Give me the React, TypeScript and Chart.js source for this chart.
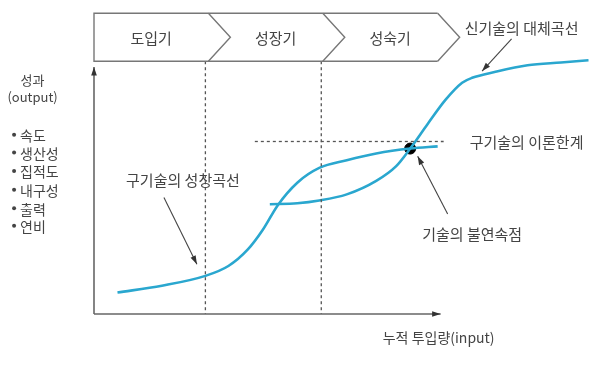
import React, { useEffect, useRef } from "react";
import { Chart, registerables } from "chart.js";
Chart.register(...registerables);

// ---- data (abstract units: x = cumulative input 0..100, y = output 0..100) ----
const phaseLabels = ["도입기", "성장기", "성숙기"];
const phaseBounds = [0, 22.9, 45.8, 68.8];
const phaseDividers = [22.3, 45.5];

const oldTechX = [4.7, 13.6, 22.3, 26.9, 30.8, 33.8, 36.8, 40.7, 45.1, 50.6, 56.5, 63.3, 68.8];
const oldTechY = [7.0, 9.2, 12.4, 15.6, 21.0, 27.4, 35.4, 42.7, 47.5, 50.0, 52.2, 53.8, 54.5];

const newTechX = [35.2, 40.7, 45.1, 50.6, 56.5, 60.5, 63.3, 66.8, 70.4, 73.7, 75.7, 80.2, 86.8, 93.5, 99.0];
const newTechY = [35.7, 36.0, 36.9, 38.9, 43.3, 48.1, 53.8, 61.8, 69.7, 75.2, 76.8, 78.7, 80.9, 81.8, 82.5];

const limitY = 56.1;
const limitRange = [32.2, 70.0];
const discontinuity = { x: 63.3, y: 53.8 };

const axisXEnd = 69.4;
const axisYEnd = 80.3;
const boxTop = 97.8;
const boxBottom = 82.2;

const calloutTexts = ["신기술의 대체곡선", "구기술의 성창곡선", "구기술의 이론한계", "기술의 불연속점"];
const xAxisTitle = "누적 투입량(input)";
const yAxisTitle = ["성과", "(output)"];
const outputMetrics = ["속도", "생산성", "집적도", "내구성", "출력", "연비"];

const CURVE = "#2aa7cf";
const INK = "#444444";
const GRAY = "#666666";
const FONT = "'Noto Sans CJK KR', 'Noto Sans', sans-serif";

function drawArrow(ctx: CanvasRenderingContext2D, x1: number, y1: number, x2: number, y2: number, head = 8) {
  ctx.beginPath();
  ctx.moveTo(x1, y1);
  ctx.lineTo(x2, y2);
  ctx.stroke();
  const a = Math.atan2(y2 - y1, x2 - x1);
  ctx.beginPath();
  ctx.moveTo(x2, y2);
  ctx.lineTo(x2 - head * Math.cos(a - 0.32), y2 - head * Math.sin(a - 0.32));
  ctx.lineTo(x2 - head * Math.cos(a + 0.32), y2 - head * Math.sin(a + 0.32));
  ctx.closePath();
  ctx.fill();
}

const diagramPlugin = {
  id: "diagram",
  afterDraw(chart: any) {
    const ctx: CanvasRenderingContext2D = chart.ctx;
    const xs = chart.scales.x;
    const ys = chart.scales.y;
    const px = (v: number) => xs.getPixelForValue(v);
    const py = (v: number) => ys.getPixelForValue(v);
    ctx.save();

    // axes with arrowheads
    ctx.strokeStyle = GRAY;
    ctx.fillStyle = "#333";
    ctx.lineWidth = 1.6;
    drawArrow(ctx, px(0), py(0), px(axisXEnd), py(0), 9);
    drawArrow(ctx, px(0), py(0), px(0), py(axisYEnd), 9);

    // phase chevron box
    const t = py(boxTop);
    const b = py(boxBottom);
    const m = (t + b) / 2;
    const depth = 22;
    ctx.strokeStyle = "#777";
    ctx.lineWidth = 1.4;
    ctx.beginPath();
    ctx.moveTo(px(phaseBounds[phaseBounds.length - 1]), t);
    ctx.lineTo(px(phaseBounds[0]), t);
    ctx.lineTo(px(phaseBounds[0]), b);
    ctx.lineTo(px(phaseBounds[phaseBounds.length - 1]), b);
    ctx.stroke();
    for (let i = 1; i < phaseBounds.length; i++) {
      const x0 = px(phaseBounds[i]);
      ctx.beginPath();
      ctx.moveTo(x0, t);
      ctx.lineTo(x0 + depth, m);
      ctx.lineTo(x0, b);
      ctx.stroke();
    }
    ctx.fillStyle = INK;
    ctx.font = `15px ${FONT}`;
    ctx.textAlign = "center";
    ctx.textBaseline = "middle";
    for (let i = 0; i < phaseLabels.length; i++) {
      const x0 = px(phaseBounds[i]);
      const x1 = px(phaseBounds[i + 1]);
      ctx.fillText(phaseLabels[i], (x0 + x1) / 2 + (i === 0 ? 0 : 10), m + 1);
    }

    // callouts
    ctx.fillText(calloutTexts[0], px(85.6), py(93.0));
    ctx.fillText(calloutTexts[1], px(17.8), py(43.6));
    ctx.fillText(calloutTexts[2], px(86.6), py(55.7));
    ctx.fillText(calloutTexts[3], px(75.7), py(25.8));
    ctx.strokeStyle = INK;
    ctx.fillStyle = "#333";
    ctx.lineWidth = 1.1;
    drawArrow(ctx, px(83.6), py(89.5), px(77.7), py(79.0), 9);
    drawArrow(ctx, px(14.0), py(37.9), px(20.6), py(16.2), 9);
    drawArrow(ctx, px(70.8), py(32.5), px(64.8), py(51.3), 9);

    // axis titles
    ctx.fillStyle = INK;
    ctx.font = `14px ${FONT}`;
    ctx.fillText(xAxisTitle, px(69.0), py(-7.6));
    ctx.font = `13px ${FONT}`;
    ctx.fillText(yAxisTitle[0], px(-12.3), py(76.1));
    ctx.fillText(yAxisTitle[1], px(-12.3), py(70.4));

    // metric list
    const listY = [58.3, 52.5, 46.5, 40.4, 34.4, 28.7];
    ctx.textAlign = "left";
    ctx.font = `14px ${FONT}`;
    outputMetrics.forEach((s, i) => {
      ctx.beginPath();
      ctx.arc(px(-16.0), py(listY[i]), 2, 0, Math.PI * 2);
      ctx.fill();
      ctx.fillText(s, px(-14.8), py(listY[i]) + 1);
    });

    ctx.restore();
  },
};

export default function App() {
  const ref = useRef<HTMLCanvasElement | null>(null);
  useEffect(() => {
    if (!ref.current) return;
    const dashed = {
      borderColor: "#555",
      borderWidth: 1.3,
      borderDash: [3, 3],
      pointRadius: 0,
      fill: false,
    };
    const chart = new Chart(ref.current, {
      type: "line",
      data: {
        datasets: [
          ...phaseDividers.map((d) => ({
            ...dashed,
            data: [
              { x: d, y: boxBottom },
              { x: d, y: 0 },
            ],
          })),
          {
            ...dashed,
            data: [
              { x: limitRange[0], y: limitY },
              { x: limitRange[1], y: limitY },
            ],
          },
          {
            data: oldTechX.map((x, i) => ({ x, y: oldTechY[i] })),
            borderColor: CURVE,
            borderWidth: 2.6,
            pointRadius: 0,
            cubicInterpolationMode: "monotone",
            fill: false,
          },
          {
            data: newTechX.map((x, i) => ({ x, y: newTechY[i] })),
            borderColor: CURVE,
            borderWidth: 2.6,
            pointRadius: 0,
            cubicInterpolationMode: "monotone",
            fill: false,
          },
          {
            data: [discontinuity],
            showLine: false,
            pointRadius: 5.5,
            pointBackgroundColor: "#000",
            pointBorderColor: "#000",
            borderColor: "#000",
          },
        ] as any,
      },
      options: {
        animation: false,
        responsive: false,
        devicePixelRatio: 1,
        layout: { padding: { left: 94, right: 0, top: 0, bottom: 58 } },
        plugins: { legend: { display: false }, tooltip: { enabled: false } },
        scales: {
          x: { type: "linear", min: 0, max: 100, display: false },
          y: { type: "linear", min: 0, max: 100, display: false },
        },
      },
      plugins: [diagramPlugin],
    });
    return () => chart.destroy();
  }, []);
  return (
    <div style={{ position: "absolute", left: 0, top: 0, width: 600, height: 372, background: "#fff" }}>
      <canvas ref={ref} width={600} height={372} />
    </div>
  );
}
